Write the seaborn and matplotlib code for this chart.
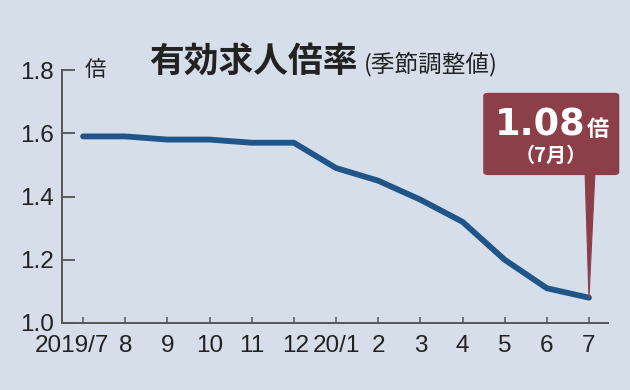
import numpy as np
import pandas as pd
import matplotlib.pyplot as plt
import matplotlib.transforms as mtransforms
import seaborn as sns
from matplotlib.patches import FancyBboxPatch

# datos (有効求人倍率, 季節調整値)
meses = ['2019/7', '8', '9', '10', '11', '12', '20/1', '2', '3', '4', '5', '6', '7']
ratio = [1.59, 1.59, 1.58, 1.58, 1.57, 1.57, 1.49, 1.45, 1.39, 1.32, 1.20, 1.11, 1.08]
y_ticks = [1.0, 1.2, 1.4, 1.6, 1.8]

df = pd.DataFrame({'pos': np.arange(len(meses)), 'ratio': ratio})

bg = '#d5dee9'
azul = '#1f5588'
rojo = '#8c3f49'
gris = '#555555'
negro = '#222222'

sns.set_theme(style='ticks')
plt.rcParams['font.family'] = ['Noto Sans CJK JP', 'DejaVu Sans']
latin = ['Liberation Sans', 'DejaVu Sans']

fig = plt.figure(figsize=(6.3, 3.9), dpi=100, facecolor=bg)
ax = fig.add_axes([0.0984, 0.1718, 0.8666, 0.6487])
ax.set_facecolor(bg)

sns.lineplot(data=df, x='pos', y='ratio', ax=ax, color=azul, linewidth=4.2,
             solid_capstyle='round', solid_joinstyle='round')

ax.set_xlim(-0.5, 12.45)
ax.set_ylim(1.0, 1.8)
ax.set_xticks(df['pos'])
ax.set_xticklabels(meses)
ax.set_yticks(y_ticks)
ax.set_yticklabels([f'{v:.1f}' for v in y_ticks])
ax.set_xlabel('')
ax.set_ylabel('')

for lab in ax.get_xticklabels() + ax.get_yticklabels():
    lab.set_family(latin)
    lab.set_fontsize(17.5)
    lab.set_color(negro)

ax.tick_params(axis='y', direction='in', length=9.5, width=1.3, color=gris, pad=6)
ax.tick_params(axis='x', direction='in', length=4, width=1.1, color=gris, pad=9)
sns.despine(ax=ax)
for s in ['left', 'bottom']:
    ax.spines[s].set_color(gris)
    ax.spines[s].set_linewidth(1.4)

# pequeños ajustes de etiquetas como en el original
xlabs = ax.get_xticklabels()
xlabs[0].set_transform(xlabs[0].get_transform() +
                       mtransforms.ScaledTranslation(-11 / 100, 0, fig.dpi_scale_trans))
xlabs[5].set_transform(xlabs[5].get_transform() +
                       mtransforms.ScaledTranslation(2 / 100, 0, fig.dpi_scale_trans))

# unidad
ax.text(0.042, 1.8, '倍', transform=ax.get_yaxis_transform(), fontsize=15.5,
        color=negro, va='center', ha='left')

# titulo
fig.text(0.236, 0.815, '有効求人倍率', fontsize=25, fontweight='bold',
         color=negro, va='baseline', ha='left')
fig.text(0.578, 0.818, '(季節調整値)', fontsize=17, color=negro,
         va='baseline', ha='left')

# recuadro del ultimo valor
box = FancyBboxPatch((0.767, 0.551), 0.216, 0.211, transform=fig.transFigure,
                     boxstyle='round,pad=0,rounding_size=0.008',
                     fc=rojo, ec='none', zorder=5)
fig.patches.append(box)
ax.annotate('', xy=(df['pos'].iloc[-1], ratio[-1]),
            xytext=(590 / 630, 0.553), textcoords='figure fraction',
            arrowprops=dict(arrowstyle='wedge,tail_width=0.7,shrink_factor=0.5',
                            fc=rojo, ec=rojo, lw=0.8, mutation_scale=10,
                            shrinkA=0, shrinkB=0),
            annotation_clip=False, zorder=4)

fig.text(585 / 630, 1 - 135 / 390, f'{ratio[-1]:.2f}', fontsize=26.5,
         fontweight='bold', color='white', ha='right', va='baseline',
         family=['DejaVu Sans'], zorder=6)
fig.text(587 / 630, 1 - 136 / 390, '倍', fontsize=16, fontweight='bold',
         color='white', ha='left', va='baseline', zorder=6)
fig.text(551 / 630, 1 - 155 / 390, '（7月）', fontsize=14.5, fontweight='bold',
         color='white', ha='center', va='center', zorder=6)

plt.savefig('out.png', dpi=100, facecolor=bg)
